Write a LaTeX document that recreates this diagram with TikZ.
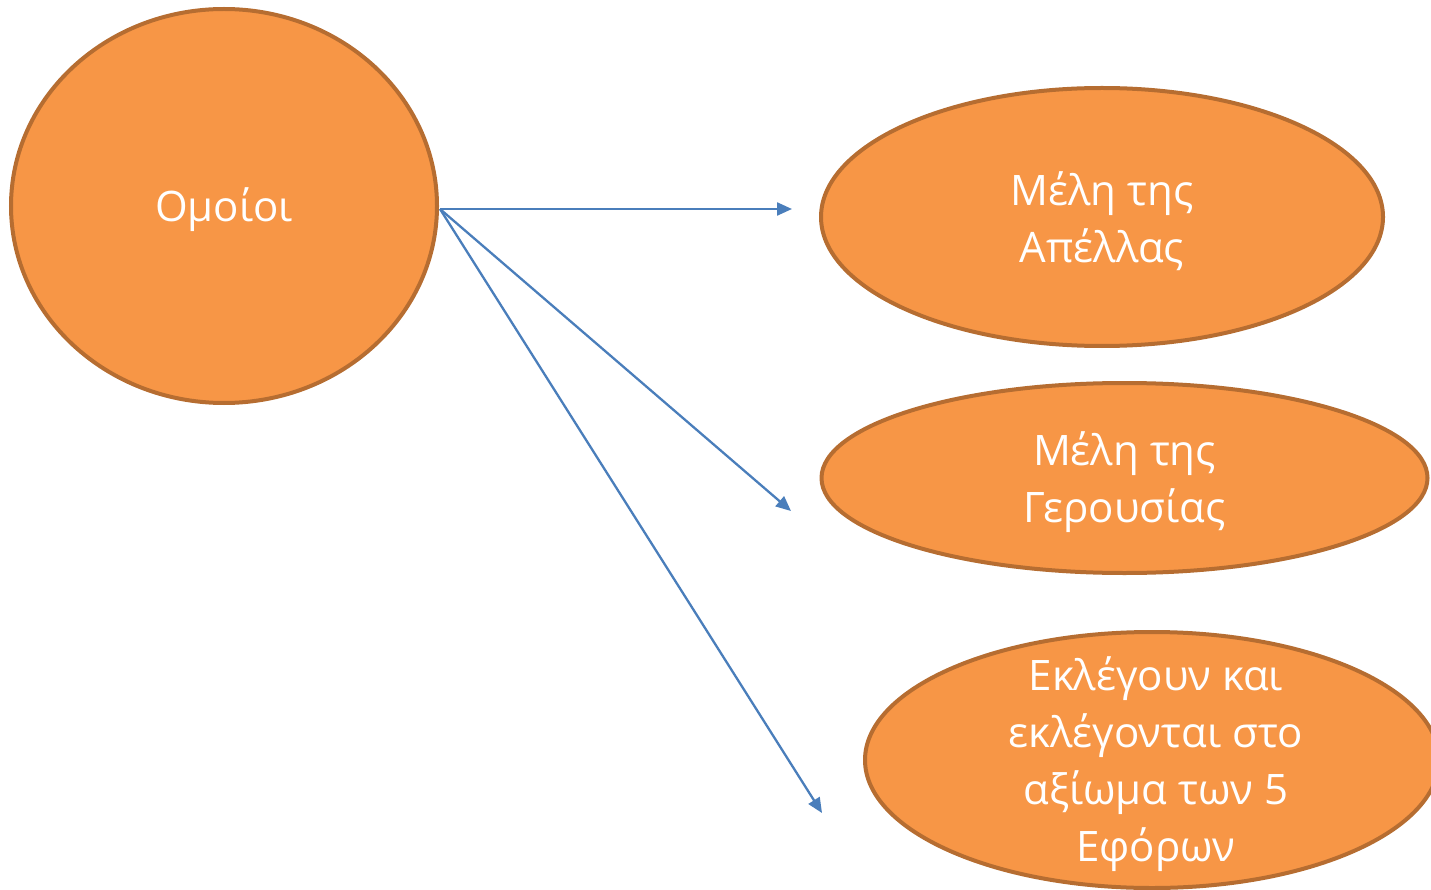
\documentclass[tikz,border=0pt]{standalone}
\usepackage{fontspec}
\setmainfont{Open Sans}
\usetikzlibrary{shapes.geometric,arrows.meta}
\definecolor{fillor}{HTML}{F79646}
\definecolor{edgeor}{HTML}{B66D31}
\definecolor{arrblue}{HTML}{4A7EBB}
\tikzset{
  oval/.style={ellipse, draw=edgeor, fill=fillor, line width=4pt, inner sep=0pt},
  ovaltext/.style={text=white, align=center, inner sep=0pt, font=\fontsize{42}{57}\selectfont},
  conn/.style={draw=arrblue, line width=2.3pt, -{Triangle[length=15pt,width=13pt]}}
}
\begin{document}
\begin{tikzpicture}[x=1pt,y=-1pt]
\useasboundingbox (0,0) rectangle (1431,890);
\clip (0,0) rectangle (1431,890);
\node[oval, minimum width=426pt, minimum height=394pt] (om) at (224,206) {};
\node[oval, minimum width=562pt, minimum height=258pt] (ap) at (1102,217) {};
\node[oval, minimum width=606pt, minimum height=190pt] (ge) at (1124.5,478) {};
\node[oval, minimum width=574pt, minimum height=256pt] (ef) at (1152,760) {};
\node[ovaltext] (tom) at ([yshift=-4pt]om.center) {Ομοίοι};
\node[ovaltext] (tap) at ([yshift=-4pt]ap.center) {Μέλη της\\Απέλλας};
\node[ovaltext] (tge) at ([yshift=-4pt]ge.center) {Μέλη της\\Γερουσίας};
\node[ovaltext] (tef) at ([xshift=4pt,yshift=-4pt]ef.center) {Εκλέγουν και\\εκλέγονται στο\\αξίωμα των 5\\Εφόρων};
\coordinate (s) at (440,209);
\coordinate (e1) at (792,209);
\coordinate (e2) at (791,511);
\coordinate (e3) at (822,813);
\draw[conn] (s) -- (e1);
\draw[conn] (s) -- (e2);
\draw[conn] (s) -- (e3);
\end{tikzpicture}
\end{document}
